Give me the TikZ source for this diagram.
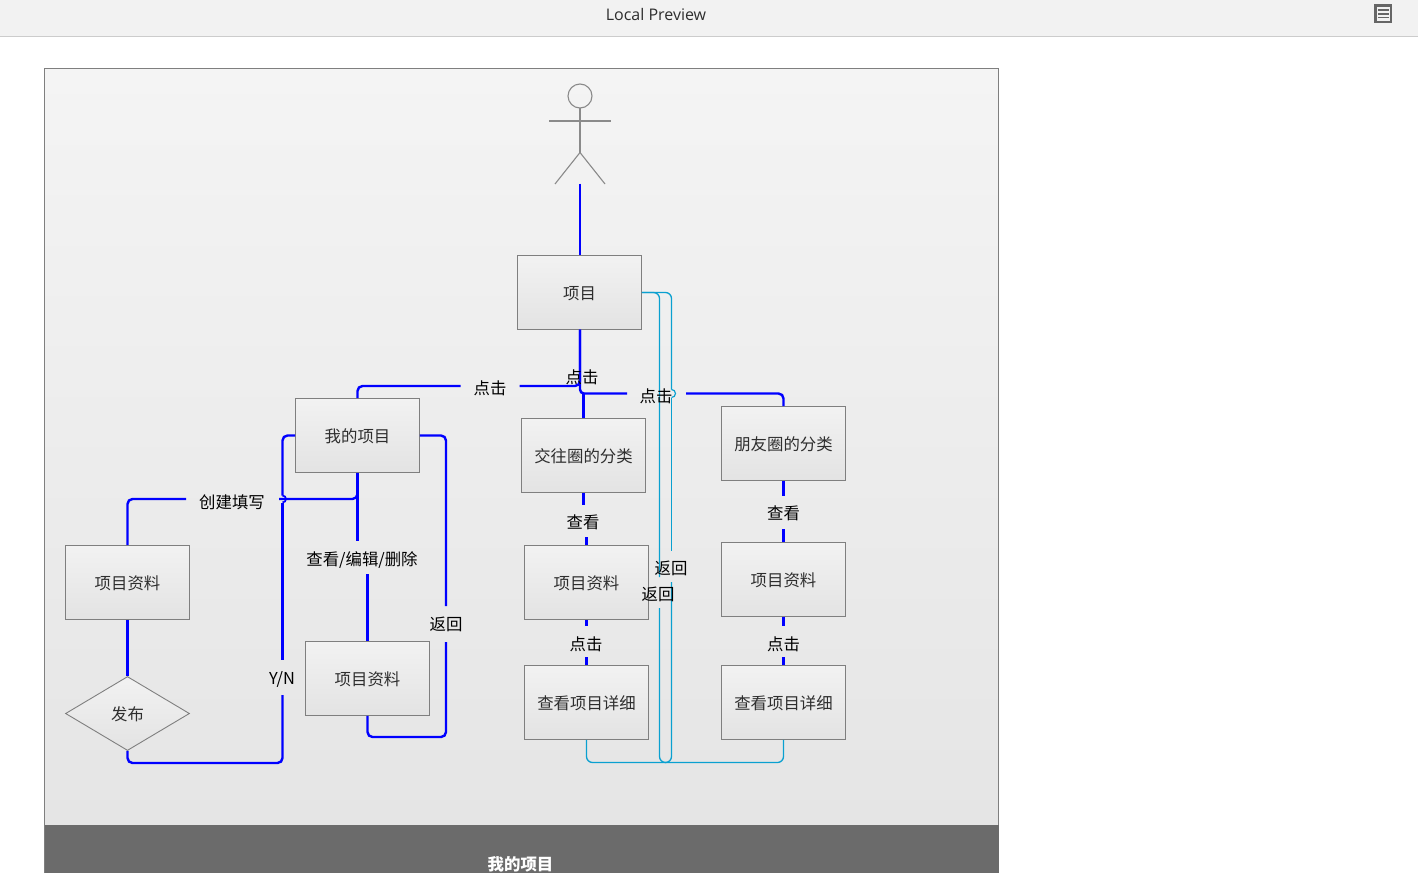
\documentclass[tikz,border=0pt]{standalone}
\usepackage{fontspec}
\setmainfont{Noto Sans CJK SC}
\newfontfamily\latinf{Open Sans}
\usetikzlibrary{shapes.geometric}
\definecolor{wire}{HTML}{0000FF}
\definecolor{teal}{HTML}{0AA0D0}
\definecolor{edge}{HTML}{7F7F7F}
\definecolor{ink}{HTML}{2E2E2E}
\definecolor{boxtop}{HTML}{F2F2F2}
\definecolor{boxbot}{HTML}{E3E3E3}
\definecolor{cantop}{HTML}{F4F4F4}
\definecolor{canbot}{HTML}{E5E5E5}
\definecolor{figc}{HTML}{8A8A8A}
\tikzset{
  px/.style={x=1pt,y=-1pt},
  boxn/.style={draw=edge,line width=.9pt,minimum width=124pt,minimum height=74pt,inner sep=0pt,top color=boxtop,bottom color=boxbot,text=ink,text height=15pt,text depth=2pt,font=\fontsize{16.4}{18}\selectfont},
  lab/.style={inner sep=0pt,text=black,text height=14pt,text depth=2pt,font=\fontsize{16.4}{18}\selectfont},
  bw/.style={wire,line width=2.4pt,rounded corners=5pt},
  bt/.style={wire,line width=2.2pt},
  tw/.style={teal,line width=1.3pt,rounded corners=6pt},
  fig/.style={figc,line width=1.1pt},
}
\begin{document}
\begin{tikzpicture}[px]
\useasboundingbox (0,0) rectangle (1418,873);
\fill[white] (0,0) rectangle (1418,873);
% window header
\fill[black!5] (0,0) rectangle (1418,36);
\draw[black!20,line width=.9pt] (0,36.5) -- (1418,36.5);
\node[text=ink,inner sep=0pt,font=\latinf\fontsize{16}{18}\selectfont] (title) at (656,14) {Local Preview};
\draw[black!60,line width=2.2pt,fill=black!5] (1375.5,5.5) rectangle (1391,22);
\foreach \yy in {10,13.7,17.4}{\draw[black!60,line width=1.8pt] (1378,\yy) -- (1388.5,\yy);}
% canvas
\shade[top color=cantop,bottom color=canbot] (45,69) rectangle (998,825);
\draw[edge,line width=.9pt] (44.5,873) -- (44.5,68.5) -- (998.5,68.5) -- (998.5,873);
\fill[black!58] (44.5,825) rectangle (998.5,873);
\node[inner sep=0pt,text=white,font=\bfseries\fontsize{16.4}{18}\selectfont] (foot) at (520.5,864) {我的项目};
% actor
\coordinate (aTop) at (580,108);
\coordinate (aHip) at (580,152.5);
\coordinate (aFoot) at (580,183.5);
\draw[fig] (580,96) circle (12);
\draw[fig] (aTop) -- (aHip);
\draw[fig] (549,121) -- (611,121);
\draw[fig] (555,184) -- (aHip) -- (605,184);
% nodes
\node[boxn] (xm) at (579.5,292.5) {项目};
\node[boxn] (my) at (357.5,435.5) {我的项目};
\node[boxn] (jw) at (583.5,455.5) {交往圈的分类};
\node[boxn] (py) at (783.5,443.5) {朋友圈的分类};
\node[boxn] (zl1) at (127.5,582.5) {项目资料};
\node[boxn] (zl2) at (367.5,678.5) {项目资料};
\node[boxn] (zl3) at (586.5,582.5) {项目资料};
\node[boxn] (zl4) at (783.5,579.5) {项目资料};
\node[boxn] (xq1) at (586.5,702.5) {查看项目详细};
\node[boxn] (xq2) at (783.5,702.5) {查看项目详细};
\node[diamond,aspect=1.69,draw=edge,line width=.9pt,minimum width=124pt,minimum height=74pt,inner sep=0pt,top color=boxtop,bottom color=boxbot,text=ink,text height=15pt,text depth=2pt,font=\fontsize{16.4}{18}\selectfont] (fb) at (127.5,713.5) {发布};
% blue connectors
\coordinate (j2) at (583.5,393.5);
\draw[bw] (aFoot) -- (aFoot |- xm.north);
\draw[bw] (580,329.5) -- (580,386) -- (519.5,386);
\draw[bw] (460.5,386) -- (357.5,386) -- (my.north);
\draw[bw,rounded corners=4pt] (580,329.5) -- (580,393.5) -- (627,393.5);
\draw[bw] (686,393.5) -- (783.5,393.5) -- (py.north);
\draw[bt] (j2) -- (jw.north);
\draw[bt] (jw.south) -- (583.5,505);
\draw[bt] (586.5,537) -- (zl3.north);
\draw[bt] (zl3.south) -- (586.5,626);
\draw[bt] (586.5,657) -- (xq1.north);
\draw[bt] (py.south) -- (783.5,496);
\draw[bt] (783.5,529) -- (zl4.north);
\draw[bt] (zl4.south) -- (783.5,626);
\draw[bt] (783.5,657) -- (xq2.north);
\draw[bw] (my.south) -- (357.5,499) -- (279,499);
\draw[bw] (186,499) -- (127.5,499) -- (zl1.north);
\draw[bt] (my.south) -- (357.5,541);
\draw[bt] (367.5,574) -- (zl2.north);
\draw[bw] (my.west) -- (282.5,435.5) -- (282.5,495.5);
\draw[wire,line width=1.7pt] (282.5,495.5) arc (-90:90:3.5);
\draw[bw] (282.5,502.5) -- (282.5,660);
\draw[bw] (282.5,695) -- (282.5,763) -- (127.5,763) -- (fb.south);
\draw[bw] (my.east) -- (446,435.5) -- (446,606);
\draw[bw] (446,642) -- (446,737) -- (367.5,737) -- (zl2.south);
\draw[bw] (zl1.south) -- (fb.north);
% teal connectors
\draw[tw] (xm.east) -- (659.5,292.5) -- (659.5,577);
\draw[tw] (659.5,608) -- (659.5,762.5) -- (666,762.5);
\draw[tw] (xm.east) -- (671.5,292.5) -- (671.5,389.5);
\draw[teal,line width=1.2pt] (671.5,389.5) arc (-90:90:4);
\draw[tw] (671.5,397.5) -- (671.5,551);
\draw[tw] (671.5,582) -- (671.5,762.5) -- (666,762.5);
\draw[tw] (xq1.south) -- (586.5,762.5) -- (783.5,762.5) -- (xq2.south);
% labels
\node[lab] (l1) at (490,388.5) {点击};
\node[lab] (l2) at (582,377) {点击};
\node[lab] (l3) at (656,396.5) {点击};
\node[lab] (l4) at (232,502.5) {创建填写};
\node[lab] (l5) at (362,559.5) {查看/编辑/删除};
\node[lab] (l6) at (282,678) {Y/N};
\node[lab] (l7) at (446,624.5) {返回};
\node[lab] (l8) at (583,522.5) {查看};
\node[lab] (l9) at (783.5,513.5) {查看};
\node[lab] (l10) at (586,644) {点击};
\node[lab] (l11) at (783.5,644) {点击};
\node[lab] (l12) at (671,568.5) {返回};
\node[lab] (l13) at (658,594.5) {返回};
\end{tikzpicture}
\end{document}
